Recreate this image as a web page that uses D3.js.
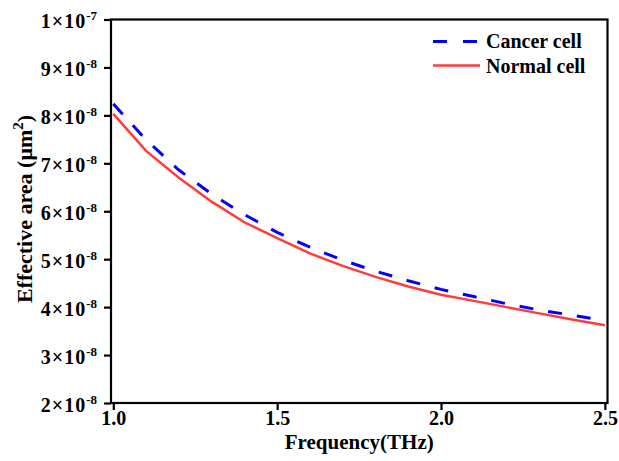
<!DOCTYPE html>
<html>
<head>
<meta charset="utf-8">
<script src="https://cdn.jsdelivr.net/npm/d3@7"></script>
<style>
  body { margin: 0; background: #fff; }
  text { font-family: "Liberation Serif", "Times New Roman", serif; font-weight: bold; fill: #000; }
</style>
</head>
<body>
<div id="chart"></div>
<script>
// Frequency (THz) and effective area (in units of 1e-8 um^2)
var freq = [1.0, 1.1, 1.2, 1.3, 1.4, 1.5, 1.6, 1.7, 1.8, 1.9, 2.0, 2.1, 2.2, 2.3, 2.4, 2.5];
var cancer = [8.24, 7.49, 6.86, 6.36, 5.93, 5.56, 5.25, 4.98, 4.75, 4.55, 4.37, 4.22, 4.07, 3.94, 3.83, 3.72];
var normal = [8.03, 7.26, 6.70, 6.20, 5.77, 5.44, 5.12, 4.86, 4.63, 4.43, 4.26, 4.13, 4.00, 3.87, 3.74, 3.62];
var xTicks = [1.0, 1.5, 2.0, 2.5];
var yTicks = [2, 3, 4, 5, 6, 7, 8, 9, 10];

var width = 619, height = 461;
var plotL = 111, plotR = 607.5, plotT = 19.5, plotB = 403;

var svg = d3.select("#chart").append("svg")
    .attr("width", width)
    .attr("height", height);

var x = d3.scaleLinear().domain([0.993, 2.508]).range([plotL, plotR]);
var y = d3.scaleLinear().domain([2, 10]).range([plotB, plotT]);

// x axis ticks and labels
var xAxis = svg.append("g")
    .attr("transform", "translate(0," + plotB + ")")
    .call(d3.axisBottom(x).tickValues(xTicks).tickSize(7)
        .tickFormat(d3.format(".1f")));
xAxis.select(".domain").remove();
xAxis.selectAll("line").attr("stroke-width", 2.2);
xAxis.selectAll("text").style("font-size", "20px").attr("y", 22).attr("dy", 0);

// y axis ticks, labels as a×10^b
var yAxis = svg.append("g")
    .attr("transform", "translate(" + plotL + ",0)")
    .call(d3.axisLeft(y).tickValues(yTicks).tickSize(7).tickFormat(""));
yAxis.select(".domain").remove();
yAxis.selectAll("text").remove();
yAxis.selectAll("line").attr("stroke-width", 2.2);
yAxis.selectAll(".tick").each(function(d) {
    var t = d3.select(this).append("text")
        .attr("x", -14)
        .attr("y", 8)
        .attr("text-anchor", "end")
        .style("font-size", "20px");
    var mant = d == 10 ? 1 : d;
    var exp = d == 10 ? "-7" : "-8";
    t.append("tspan").text(mant + "\u00d710").style("letter-spacing", "1px");
    t.append("tspan").text(exp).attr("dy", -8).style("font-size", "13px");
});

// frame
svg.append("rect")
    .attr("x", plotL).attr("y", plotT)
    .attr("width", plotR - plotL).attr("height", plotB - plotT)
    .attr("fill", "none").attr("stroke", "#000").attr("stroke-width", 2.2);

var line = function(vals) {
    return d3.line()
        .x(function(d, i) { return x(freq[i]); })
        .y(function(d) { return y(d); })(vals);
};

svg.append("path")
    .attr("d", line(normal))
    .attr("fill", "none")
    .attr("stroke", "#ff3b3b")
    .attr("stroke-width", 2.5);

svg.append("path")
    .attr("d", line(cancer))
    .attr("fill", "none")
    .attr("stroke", "#0000ff")
    .attr("stroke-width", 3)
    .attr("stroke-dasharray", "14,15");

// legend
var lg = svg.append("g");
lg.append("line")
    .attr("x1", 433).attr("x2", 478).attr("y1", 41.5).attr("y2", 41.5)
    .attr("stroke", "#0000ff").attr("stroke-width", 3)
    .attr("stroke-dasharray", "14,16");
lg.append("text").attr("x", 486).attr("y", 47.5).style("font-size", "20px").text("Cancer cell");
lg.append("line")
    .attr("x1", 433).attr("x2", 480).attr("y1", 65.5).attr("y2", 65.5)
    .attr("stroke", "#ff3b3b").attr("stroke-width", 2.5);
lg.append("text").attr("x", 486).attr("y", 72.5).style("font-size", "20px").text("Normal cell");

// axis titles
svg.append("text")
    .attr("x", (plotL + plotR) / 2)
    .attr("y", 449)
    .attr("text-anchor", "middle")
    .style("font-size", "21px")
    .text("Frequency(THz)");

var yt = svg.append("text")
    .attr("transform", "translate(32,209) rotate(-90)")
    .attr("text-anchor", "middle")
    .style("font-size", "22px");
yt.append("tspan").text("Effective area (\u03bcm");
yt.append("tspan").text("2").attr("dy", -9).style("font-size", "15px");
yt.append("tspan").text(")").attr("dy", 9);
</script>
</body>
</html>
